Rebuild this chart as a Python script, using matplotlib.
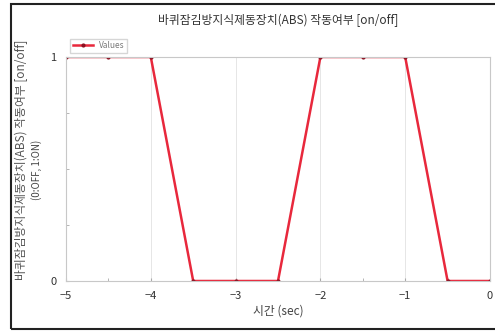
import matplotlib
matplotlib.use('Agg')
import matplotlib.pyplot as plt
from matplotlib.patches import Rectangle
from matplotlib.ticker import MultipleLocator

plt.rcParams['font.family'] = ['Noto Sans CJK KR', 'DejaVu Sans']

# data
time_sec = [-5, -4.5, -4, -3.5, -3, -2.5, -2, -1.5, -1, -0.5, 0]
abs_state = [1, 1, 1, 0, 0, 0, 1, 1, 1, 0, 0]
series_name = 'Values'
title_text = '바퀴잠김방지식제동장치(ABS) 작동여부 [on/off]'
ylabel_line1 = '바퀴잠김방지식제동장치(ABS) 작동여부 [on/off]'
ylabel_line2 = '(0:OFF, 1:ON)'
xlabel_text = '시간 (sec)'

fig = plt.figure(figsize=(4.95, 3.32), dpi=100)
ax = fig.add_axes([66 / 495, 1 - 281 / 332, (490 - 66) / 495, (281 - 57) / 332])

# outer frame of the picture
fig.patches.append(Rectangle((11 / 495, 3 / 332), 1.2, 325 / 332, transform=fig.transFigure,
                             fill=False, edgecolor='#222222', linewidth=1.5))

ax.plot(time_sec, abs_state, '-', color='#e8283c', linewidth=1.8,
        marker='o', markersize=2.0, markerfacecolor='#8a1020', markeredgecolor='#8a1020',
        label=series_name)

ax.set_xlim(-5, 0)
ax.set_ylim(0, 1)
ax.set_xticks([-5, -4, -3, -2, -1, 0])
ax.set_yticks([0, 1])
ax.xaxis.set_minor_locator(MultipleLocator(0.5))
ax.yaxis.set_minor_locator(MultipleLocator(0.25))
ax.grid(True, which='major', color='#e6e6e6', linewidth=0.7)
ax.tick_params(which='both', direction='in', labelsize=8, colors='#aaaaaa', labelcolor='#333333',
               length=2, pad=7)
for s in ax.spines.values():
    s.set_color('#c8c8c8')
    s.set_linewidth(0.8)

ax.set_xlabel(xlabel_text, fontsize=8.5, color='#444444', labelpad=3)
fig.text(21 / 495, 1 - 160 / 332, ylabel_line1, rotation=90, ha='center', va='center',
         fontsize=8.5, color='#555555')
fig.text(37 / 495, 1 - 170 / 332, ylabel_line2, rotation=90, ha='center', va='center',
         fontsize=7, color='#444444')
fig.text(278 / 495, 1 - 20 / 332, title_text, ha='center', va='center',
         fontsize=8.5, color='#333333')

ax.legend(loc='lower left', bbox_to_anchor=(0.0, 1.0), fontsize=6, frameon=True,
          fancybox=False, edgecolor='#cccccc', borderpad=0.3, handlelength=2.4,
          borderaxespad=0.5, labelcolor='#777777')

fig.savefig('out.png', dpi=100)
